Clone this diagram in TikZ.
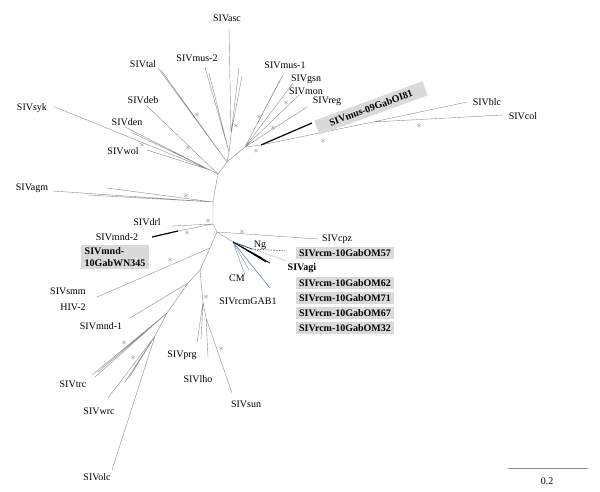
\documentclass[tikz,border=0pt]{standalone}
\usepackage{fontspec}
\setmainfont{Liberation Serif}
\definecolor{tipblue}{RGB}{80,140,210}
\definecolor{boxgray}{RGB}{218,218,218}
\begin{document}
\begin{tikzpicture}[x=1pt,y=-1pt,font=\fontsize{10}{11}\selectfont,
  br/.style={draw=gray!90,line width=0.4pt},
  thk/.style={draw=black,line width=1.2pt},
  ast/.style={text=gray,inner sep=0pt,font=\normalsize},
  lbl/.style={inner sep=0pt},
  tipbox/.style={fill=boxgray,font=\bfseries,inner xsep=3.5pt,inner ysep=0pt,minimum height=12pt}]
\useasboundingbox (0,0) rectangle (600,491);

% inner nodes
\coordinate (a) at (218,174);
\coordinate (b) at (227,162);
\coordinate (c) at (245,147);
\coordinate (pa) at (229,152);
\coordinate (qa) at (231,134);
\coordinate (d) at (210,170);
\coordinate (e) at (215,190);
\coordinate (f) at (213,202);
\coordinate (g) at (213,224);
\coordinate (h) at (217,232);
\coordinate (r) at (233,242);
\coordinate (k) at (210,248);
\coordinate (m) at (200,270);
\coordinate (n) at (188,283);
\coordinate (l) at (167,313);
\coordinate (o) at (155,336);
\coordinate (p) at (203,302);
\coordinate (q) at (206,318);
\coordinate (c2) at (261,145);
\coordinate (cb) at (373,122);
\coordinate (md) at (178,231);
\coordinate (ngb) at (252,249);

% tips
\coordinate (asc1) at (229,28);
\coordinate (asc2) at (239,68);
\coordinate (asc3) at (242,76);
\coordinate (mu2a) at (205,67);
\coordinate (mu2b) at (209,73);
\coordinate (tala) at (158,68);
\coordinate (talb) at (161,70);
\coordinate (deb) at (147,106);
\coordinate (syk) at (55,107);
\coordinate (den1) at (125,127);
\coordinate (den2) at (133,133);
\coordinate (wol) at (147,150);
\coordinate (agm1) at (53,191);
\coordinate (agm2) at (107,188);
\coordinate (agm3) at (88,195);
\coordinate (drl) at (172,226);
\coordinate (mnd2) at (152,237);
\coordinate (cpz) at (318,239);
\coordinate (smm) at (97,297);
\coordinate (mnd1) at (130,318);
\coordinate (trc1) at (92,375);
\coordinate (trc2) at (95,377);
\coordinate (trc3) at (98,372);
\coordinate (wrc1) at (108,398);
\coordinate (wrc2) at (125,382);
\coordinate (wrc3) at (129,378);
\coordinate (olc) at (112,470);
\coordinate (prg1) at (197,343);
\coordinate (prg2) at (201,340);
\coordinate (lho) at (208,357);
\coordinate (sun) at (232,393);
\coordinate (mu1a) at (283,75);
\coordinate (mu1b) at (280,80);
\coordinate (gsn) at (293,83);
\coordinate (mon) at (299,95);
\coordinate (reg) at (307,107);
\coordinate (m09) at (312,123);
\coordinate (blc) at (467,102);
\coordinate (col) at (503,115);
\coordinate (cm1) at (245,275);
\coordinate (cm2) at (249,270);
\coordinate (gab) at (270,288);
\coordinate (bk1) at (270,263);
\coordinate (bk2) at (266,262);
\coordinate (bk3) at (262,258);
\coordinate (bk4) at (258,256);
\coordinate (ngt) at (287,251);
\coordinate (agit) at (287,261);

% branches
\draw[br] (a) -- (b) -- (c) (b) -- (pa) -- (qa) (a) -- (d) (a) -- (e) -- (f) -- (g) -- (h) -- (k) -- (m);
\draw[br] (qa) -- (asc1) (qa) -- (asc2) (qa) -- (asc3) (pa) -- (mu2a) (pa) -- (mu2b);
\draw[br] (b) -- (tala) (b) -- (talb) (a) -- (deb);
\draw[br] (d) -- (syk) (d) -- (den1) (d) -- (den2) (d) -- (wol);
\draw[br] (f) -- (agm1) (f) -- (agm2) (f) -- (agm3);
\draw[br] (g) -- (drl) (g) -- (md);
\draw[thk] (md) -- (mnd2);
\draw[br] (h) -- (cpz) (h) -- (r) (k) -- (smm);
\draw[br] (m) -- (n) -- (l) -- (o) (n) -- (mnd1) (l) -- (trc1) (l) -- (trc2) (l) -- (trc3);
\draw[br] (o) -- (olc) (o) -- (wrc1) (o) -- (wrc2) (o) -- (wrc3);
\draw[br] (m) -- (p) -- (q) (p) -- (prg1) (p) -- (prg2) (q) -- (lho) (q) -- (sun);
\draw[br] (c) -- (mu1a) (c) -- (mu1b) (c) -- (gsn) (c) -- (mon) (c) -- (reg);
\draw[br] (c) -- (c2) -- (cb) -- (blc) (cb) -- (col);
\draw[thk] (c2) -- (m09);
\draw[br] (r) -- (cm1) (r) -- (cm2);
\draw[tipblue,line width=0.6pt] (r) -- (gab);
\draw[black,line width=0.8pt] (r) -- (bk1) (r) -- (bk2) (r) -- (bk3) (r) -- (bk4);
\draw[black,line width=0.6pt] (r) -- (ngb);
\draw[black,densely dotted,line width=0.6pt] (ngb) -- (ngt);
\draw[tipblue,densely dotted,line width=0.6pt] (r) -- (agit);

% support
\node[ast] (s1) at (197,115) {$\ast$};
\node[ast] (s2) at (236,126) {$\ast$};
\node[ast] (s3) at (188,148) {$\ast$};
\node[ast] (s4) at (142,145) {$\ast$};
\node[ast] (s5) at (259,117) {$\ast$};
\node[ast] (s6) at (286,103) {$\ast$};
\node[ast] (s7) at (273,128) {$\ast$};
\node[ast] (s8) at (256,151) {$\ast$};
\node[ast] (s9) at (323,141) {$\ast$};
\node[ast] (s10) at (419,126) {$\ast$};
\node[ast] (s11) at (186,196) {$\ast$};
\node[ast] (s12) at (208,221) {$\ast$};
\node[ast] (s13) at (187,233) {$\ast$};
\node[ast] (s14) at (242,232) {$\ast$};
\node[ast] (s15) at (170,260) {$\ast$};
\node[ast] (s16) at (206,297) {$\ast$};
\node[ast] (s17) at (221,349) {$\ast$};
\node[ast] (s18) at (124,343) {$\ast$};
\node[ast] (s19) at (133,358) {$\ast$};

% labels
\node[lbl] (lasc) at (227,18) {SIVasc};
\node[lbl] (lmu2) at (197,58) {SIVmus-2};
\node[lbl] (ltal) at (143,64) {SIVtal};
\node[lbl] (lmu1) at (285,65) {SIVmus-1};
\node[lbl] (lgsn) at (306,79) {SIVgsn};
\node[lbl] (lmon) at (306,91) {SIVmon};
\node[lbl] (lreg) at (327,101) {SIVreg};
\node[lbl] (ldeb) at (143,100) {SIVdeb};
\node[lbl] (lsyk) at (32,108) {SIVsyk};
\node[lbl] (lden) at (127,122) {SIVden};
\node[lbl] (lwol) at (123,151) {SIVwol};
\node[lbl] (lblc) at (487,102) {SIVblc};
\node[lbl] (lcol) at (523,116) {SIVcol};
\node[lbl] (lagm) at (32,188) {SIVagm};
\node[lbl] (ldrl) at (147,222) {SIVdrl};
\node[lbl] (lmnd2) at (117,237) {SIVmnd-2};
\node[lbl] (lcpz) at (337,239) {SIVcpz};
\node[lbl] (lng) at (260,245) {Ng};
\node[lbl,font=\bfseries] (lagi) at (302,268) {SIVagi};
\node[lbl] (lcm) at (237,278) {CM};
\node[lbl] (lgab) at (248,301) {SIVrcmGAB1};
\node[lbl] (lsmm) at (68,291) {SIVsmm};
\node[lbl] (lhiv) at (73,307) {HIV-2};
\node[lbl] (lmnd1) at (101,326) {SIVmnd-1};
\node[lbl] (lprg) at (182,355) {SIVprg};
\node[lbl] (llho) at (198,379) {SIVlho};
\node[lbl] (ltrc) at (73,384) {SIVtrc};
\node[lbl] (lsun) at (246,404) {SIVsun};
\node[lbl] (lwrc) at (99,411) {SIVwrc};
\node[lbl] (lolc) at (97,477) {SIVolc};

% new strains
\node[tipbox] (om57) at (345,253) {SIVrcm-10GabOM57};
\node[tipbox] (om62) at (345,283) {SIVrcm-10GabOM62};
\node[tipbox] (om71) at (345,298) {SIVrcm-10GabOM71};
\node[tipbox] (om67) at (345,313) {SIVrcm-10GabOM67};
\node[tipbox] (om32) at (345,328) {SIVrcm-10GabOM32};
\node[tipbox,align=left,inner xsep=4pt,inner ysep=2pt] (wn345) at (115,257) {SIVmnd-\\10GabWN345};
\node[tipbox,rotate=20,minimum width=115pt,minimum height=15pt] (oi81) at (371,108) {SIVmus-09GabOI81};

% scale bar
\coordinate (sb1) at (508,468);
\coordinate (sb2) at (588,468);
\draw[br] (sb1) -- (sb2);
\node[lbl] (lsb) at (547,481) {0.2};
\end{tikzpicture}
\end{document}
